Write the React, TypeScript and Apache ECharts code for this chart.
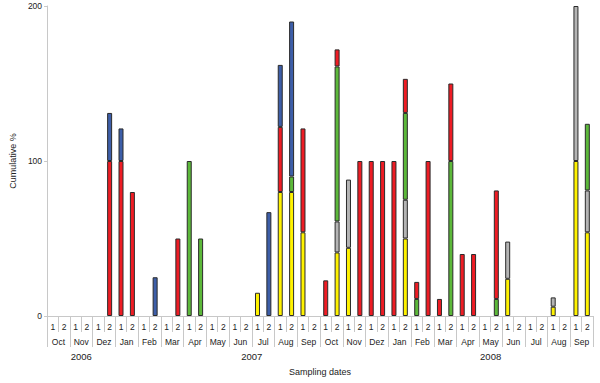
import React, { useEffect, useRef } from "react";
import * as echarts from "echarts";

const months = ["Oct", "Nov", "Dez", "Jan", "Feb", "Mar", "Apr", "May", "Jun", "Jul", "Aug", "Sep",
  "Oct", "Nov", "Dez", "Jan", "Feb", "Mar", "Apr", "May", "Jun", "Jul", "Aug", "Sep"];
const halves = ["1", "2"];
const years = ["2006", "2007", "2008"];
const yearMonthCounts = [3, 12, 9];
const yTicks = [0, 100, 200];

const slots: string[] = months.flatMap((m, i) => halves.map((h) => `${m}-${i}-${h}`));

// values per sampling slot (48 = 24 months x 2 halves)
const yellow = [0,0,0,0,0,0,0,0,0,0,0,0,0,0,0,0,0,0,15,0,80,80,54,0,0,41,44,0,0,0,0,50,0,0,0,0,0,0,0,0,24,0,0,0,6,0,100,54];
const gray   = [0,0,0,0,0,0,0,0,0,0,0,0,0,0,0,0,0,0,0,0,0,0,0,0,0,20,44,0,0,0,0,25,0,0,0,0,0,0,0,0,24,0,0,0,6,0,100,27];
const green  = [0,0,0,0,0,0,0,0,0,0,0,0,100,50,0,0,0,0,0,0,0,10,0,0,0,100,0,0,0,0,0,56,11,0,0,100,0,0,0,11,0,0,0,0,0,0,0,43];
const red    = [0,0,0,0,0,100,100,80,0,0,0,50,0,0,0,0,0,0,0,0,42,0,67,0,23,11,0,100,100,100,100,22,11,100,11,50,40,40,0,70,0,0,0,0,0,0,0,0];
const blue   = [0,0,0,0,0,31,21,0,0,25,0,0,0,0,0,0,0,0,0,67,40,100,0,0,0,0,0,0,0,0,0,0,0,0,0,0,0,0,0,0,0,0,0,0,0,0,0,0];

const seriesDefs = [
  { name: "yellow", data: yellow, color: "#fff200" },
  { name: "gray", data: gray, color: "#b4b4b4" },
  { name: "green", data: green, color: "#5cb83a" },
  { name: "red", data: red, color: "#ee1c24" },
  { name: "blue", data: blue, color: "#3d5ea8" },
];

export default function App() {
  const ref = useRef<HTMLDivElement>(null);
  useEffect(() => {
    if (!ref.current) return;
    const chart = echarts.init(ref.current, null, { renderer: "svg" });
    const font = "Liberation Sans, Arial, sans-serif";
    const textColor = "#222";
    const lineColor = "#c8c8c8";

    const yearCenters: Record<number, string> = {};
    let acc = 0;
    years.forEach((y, i) => {
      const span = yearMonthCounts[i] * 2;
      yearCenters[acc + span / 2] = y;
      acc += span;
    });

    chart.setOption({
      animation: false,
      grid: { left: 41, right: 7, top: 6, bottom: 67, containLabel: false },
      xAxis: [
        {
          type: "category",
          data: slots,
          position: "bottom",
          boundaryGap: true,
          axisLine: { show: true, lineStyle: { color: lineColor, width: 1 } },
          axisTick: { show: true, interval: 0, length: 16, lineStyle: { color: lineColor } },
          axisLabel: {
            interval: 0,
            margin: 6,
            fontSize: 8.5,
            fontFamily: font,
            color: textColor,
            formatter: (v: string) => v.split("-")[2],
          },
          splitLine: { show: false },
        },
        {
          type: "category",
          data: months.map((m, i) => `${m}-${i}`),
          position: "bottom",
          boundaryGap: true,
          axisLine: { show: false },
          axisTick: { show: true, interval: 0, length: 31, lineStyle: { color: lineColor } },
          axisLabel: {
            interval: 0,
            margin: 21,
            fontSize: 8.5,
            fontFamily: font,
            color: textColor,
            formatter: (v: string) => v.split("-")[0],
          },
          splitLine: { show: false },
        },
        {
          type: "value",
          min: 0,
          max: slots.length,
          interval: 3,
          position: "bottom",
          axisLine: { show: false },
          axisTick: { show: false },
          splitLine: { show: false },
          axisLabel: {
            margin: 35,
            fontSize: 9.5,
            fontFamily: font,
            color: textColor,
            formatter: (v: number) => yearCenters[v] || "",
          },
          name: "Sampling dates",
          nameLocation: "middle",
          nameGap: 51,
          nameTextStyle: { fontSize: 9, fontFamily: font, color: textColor },
        },
      ],
      yAxis: {
        type: "value",
        min: yTicks[0],
        max: yTicks[yTicks.length - 1],
        interval: 100,
        axisLine: { show: true, lineStyle: { color: lineColor } },
        axisTick: { show: true, length: 3, lineStyle: { color: lineColor } },
        splitLine: { show: false },
        axisLabel: { margin: 5, fontSize: 8.5, fontFamily: font, color: textColor },
        name: "Cumulative %",
        nameLocation: "middle",
        nameGap: 20,
        nameTextStyle: { fontSize: 9, fontFamily: font, color: textColor },
      },
      series: seriesDefs.map((s) => ({
        type: "bar",
        name: s.name,
        stack: "total",
        xAxisIndex: 0,
        barWidth: 5,
        data: s.data.map((v) => (v ? v : "-")),
        itemStyle: { color: s.color, borderColor: "#2a2a2a", borderWidth: 1 },
      })),
    });
    return () => chart.dispose();
  }, []);
  return <div ref={ref} style={{ width: 600, height: 383, position: "absolute", left: 0, top: 0 }} />;
}
